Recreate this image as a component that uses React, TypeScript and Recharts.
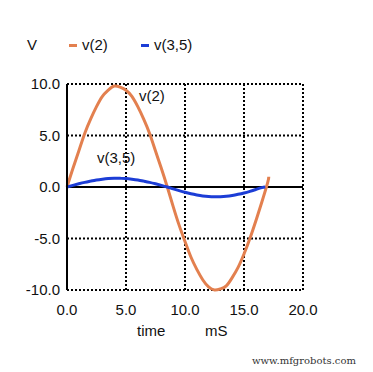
import { LineChart, Line, XAxis, YAxis, CartesianGrid, ReferenceLine } from 'recharts';

const TIME_MS = [
  0, 0.5, 1, 1.5, 2, 2.5, 3, 3.5, 4, 4.5, 5, 5.5, 6, 6.5, 7, 7.5, 8, 8.5,
  9, 9.5, 10, 10.5, 11, 11.5, 12, 12.5, 13, 13.5, 14, 14.5, 15, 15.5, 16, 16.5, 17, 17.1,
];

const V2 = [
  0, 1.8, 3.5, 5.2, 6.6, 7.8, 8.8, 9.4, 9.8, 9.7, 9.4, 8.8, 7.8, 6.6, 5.2, 3.5, 1.8, 0,
  -1.9, -3.7, -5.3, -6.8, -8.0, -9.0, -9.7, -10.0, -9.9, -9.6, -8.8, -7.8, -6.5, -5.0, -3.3, -1.5, 0.4, 1.0,
];

const TIME_MS_B = [
  0, 0.5, 1, 1.5, 2, 2.5, 3, 3.5, 4, 4.5, 5, 5.5, 6, 6.5, 7, 7.5, 8, 8.5,
  9, 9.5, 10, 10.5, 11, 11.5, 12, 12.5, 13, 13.5, 14, 14.5, 15, 15.5, 16, 16.5, 16.8,
];

const V35 = [
  0, 0.16, 0.31, 0.45, 0.57, 0.68, 0.76, 0.82, 0.85, 0.84, 0.82, 0.76, 0.68, 0.57, 0.45, 0.31, 0.16, 0,
  -0.18, -0.35, -0.51, -0.65, -0.77, -0.87, -0.93, -0.95, -0.94, -0.9, -0.82, -0.71, -0.58, -0.42, -0.24, -0.06, 0,
];

const X_TICKS = [0, 5, 10, 15, 20];
const Y_TICKS = [-10, -5, 0, 5, 10];

const ORANGE = '#e3804f';
const BLUE = '#1c3dd6';
const FONT = '"Liberation Sans", Arial, sans-serif';

const v2Data = TIME_MS.map((t, i) => ({ t, v: V2[i] }));
const v35Data = TIME_MS_B.map((t, i) => ({ t, v: V35[i] }));

const label = (left: number, top: number, text: string, extra: React.CSSProperties = {}) => (
  <div style={{ position: 'absolute', left, top, fontSize: 15, lineHeight: '16px', color: '#111', fontFamily: FONT, whiteSpace: 'nowrap', ...extra }}>
    {text}
  </div>
);

export default function App() {
  return (
    <div style={{ position: 'absolute', left: 0, top: 0, width: 373, height: 372, background: '#fff' }}>
      <LineChart width={373} height={372} margin={{ top: 84, right: 70, left: 0, bottom: 52 }}>
        <CartesianGrid stroke="#000" strokeWidth={2} strokeDasharray="2 2" />
        <XAxis
          dataKey="t"
          type="number"
          domain={[0, 20]}
          ticks={X_TICKS}
          tickFormatter={(v: number) => v.toFixed(1)}
          axisLine={false}
          tickLine={false}
          height={30}
          tick={{ fill: '#111', fontSize: 15, fontFamily: FONT }}
          tickMargin={8}
          allowDuplicatedCategory={false}
        />
        <YAxis
          type="number"
          domain={[-10, 10]}
          ticks={Y_TICKS}
          tickFormatter={(v: number) => v.toFixed(1)}
          axisLine={{ stroke: '#000', strokeWidth: 2 }}
          tickLine={false}
          width={67}
          tick={{ fill: '#111', fontSize: 15, fontFamily: FONT }}
          tickMargin={1}
        />
        <ReferenceLine y={0} stroke="#000" strokeWidth={2} />
        <Line data={v2Data} dataKey="v" type="natural" stroke={ORANGE} strokeWidth={3} dot={false} isAnimationActive={false} />
        <Line data={v35Data} dataKey="v" type="natural" stroke={BLUE} strokeWidth={3} dot={false} isAnimationActive={false} />
      </LineChart>
      {label(27, 37, 'V')}
      <div style={{ position: 'absolute', left: 69, top: 44, width: 8, height: 3, background: ORANGE }} />
      {label(82, 37, 'v(2)')}
      <div style={{ position: 'absolute', left: 141, top: 44, width: 8, height: 3, background: BLUE }} />
      {label(154, 37, 'v(3,5)')}
      {label(139, 88, 'v(2)')}
      {label(97, 150, 'v(3,5)')}
      {label(137, 323, 'time')}
      {label(205, 323, 'mS')}
      {label(252, 353, 'www.mfgrobots.com', { fontSize: 10, fontFamily: '"DejaVu Serif", serif', color: '#333' })}
    </div>
  );
}
